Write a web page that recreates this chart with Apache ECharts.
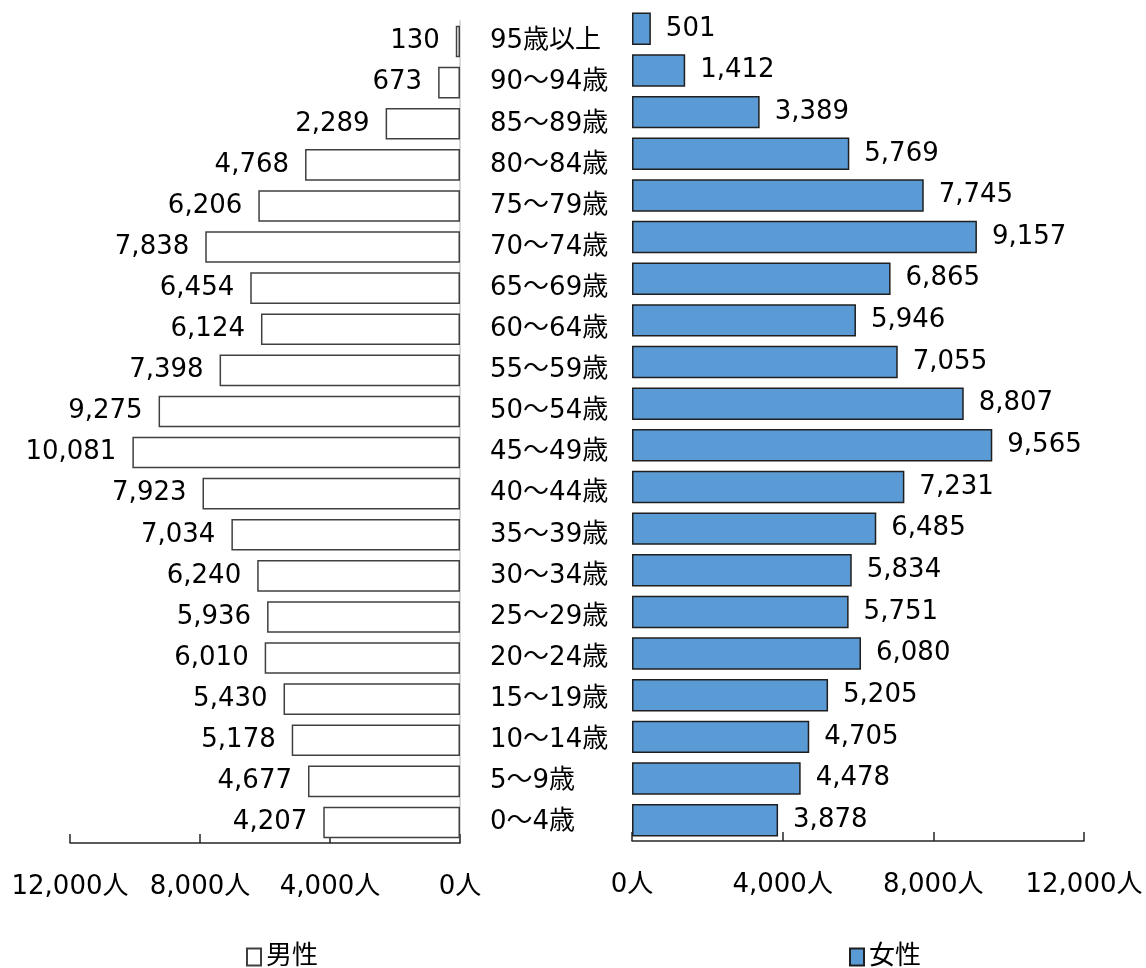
<!DOCTYPE html>
<html>
<head>
<meta charset="utf-8">
<script src="https://cdn.jsdelivr.net/npm/echarts@6/dist/echarts.min.js"></script>
<style>
html,body{margin:0;padding:0;background:#fff;}
#chart{width:1146px;height:968px;}
</style>
</head>
<body>
<div id="chart"></div>
<script>
const categories = ['95歳以上','90～94歳','85～89歳','80～84歳','75～79歳','70～74歳','65～69歳','60～64歳','55～59歳','50～54歳','45～49歳','40～44歳','35～39歳','30～34歳','25～29歳','20～24歳','15～19歳','10～14歳','5～9歳','0～4歳'];
const male = [130,673,2289,4768,6206,7838,6454,6124,7398,9275,10081,7923,7034,6240,5936,6010,5430,5178,4677,4207];
const female = [501,1412,3389,5769,7745,9157,6865,5946,7055,8807,9565,7231,6485,5834,5751,6080,5205,4705,4478,3878];
const axisMax = 12000;
const axisStep = 4000;

const FONT = "'DejaVu Sans','Noto Sans CJK JP',sans-serif";
const FS = 26;
const fmt = v => Number(v).toLocaleString('en-US');
const chart = echarts.init(document.getElementById('chart'));

const xAxisCommon = {
  type: 'value', min: 0, max: axisMax, interval: axisStep,
  axisLine: {show: true, lineStyle: {color: '#262626', width: 1.5}},
  axisTick: {show: true, inside: true, length: 9, lineStyle: {color: '#262626', width: 1.5}},
  splitLine: {show: false},
  axisLabel: {formatter: v => fmt(v) + '人', fontSize: FS, color: '#000', fontFamily: FONT, margin: 31}
};

chart.setOption({
  animation: false,
  backgroundColor: '#fff',
  textStyle: {fontFamily: FONT},
  legend: [
    {data: ['男性'], left: 241, top: 939, icon: 'rect', itemWidth: 14, itemHeight: 17, itemGap: 4,
     textStyle: {fontSize: FS, color: '#000', fontFamily: FONT}},
    {data: ['女性'], left: 844, top: 939, icon: 'rect', itemWidth: 14, itemHeight: 17, itemGap: 4,
     textStyle: {fontSize: FS, color: '#000', fontFamily: FONT}}
  ],
  grid: [
    {left: 70, right: 686, top: 21, bottom: 125},
    {left: 632, right: 62, top: 8, bottom: 127}
  ],
  xAxis: [
    Object.assign({gridIndex: 0, inverse: true}, xAxisCommon),
    Object.assign({gridIndex: 1}, xAxisCommon)
  ],
  yAxis: [
    {type: 'category', gridIndex: 0, data: categories, inverse: true, position: 'right',
     axisLine: {show: true, lineStyle: {color: '#d9d9d9', width: 2}},
     axisTick: {show: false},
     axisLabel: {show: true, align: 'left', margin: 30, fontSize: FS, color: '#000', fontFamily: FONT}},
    {type: 'category', gridIndex: 1, data: categories, inverse: true, position: 'left',
     axisLine: {show: false}, axisTick: {show: false}, axisLabel: {show: false}}
  ],
  series: [
    {name: '男性', type: 'bar', xAxisIndex: 0, yAxisIndex: 0, data: male, barWidth: '77%',
     itemStyle: {color: '#ffffff', borderColor: '#404040', borderWidth: 1.5},
     label: {show: true, position: 'left', distance: 16, formatter: p => fmt(p.value),
             fontSize: FS, color: '#000', fontFamily: FONT}},
    {name: '女性', type: 'bar', xAxisIndex: 1, yAxisIndex: 1, data: female, barWidth: '78%',
     itemStyle: {color: '#5b9bd5', borderColor: '#1f1f1f', borderWidth: 1.5},
     label: {show: true, position: 'right', distance: 15, formatter: p => fmt(p.value),
             fontSize: FS, color: '#000', fontFamily: FONT}}
  ]
});
</script>
</body>
</html>
